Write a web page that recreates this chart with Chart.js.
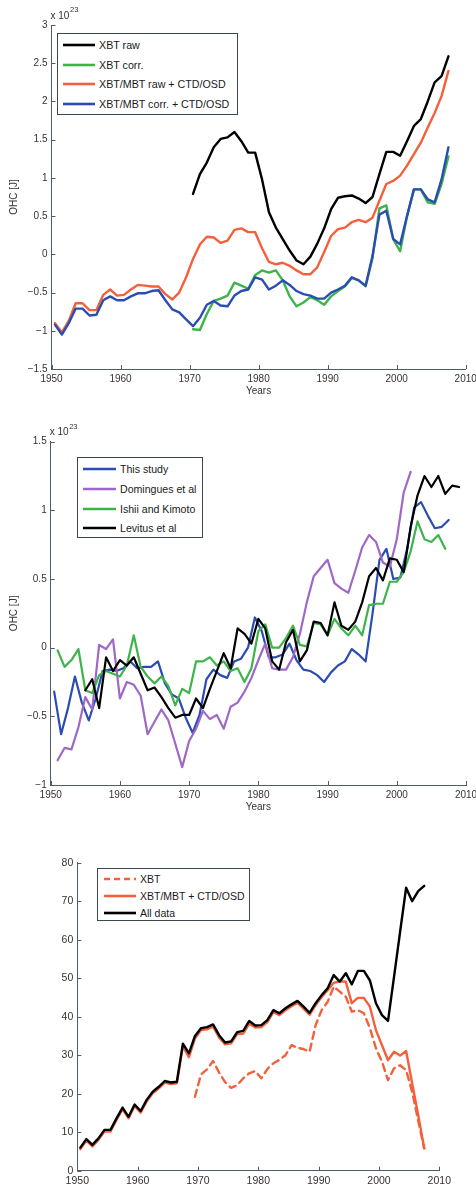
<!DOCTYPE html>
<html>
<head>
<meta charset="utf-8">
<script src="https://cdn.jsdelivr.net/npm/chart.js@4.4.0/dist/chart.umd.min.js"></script>
<style>
html, body { margin: 0; padding: 0; background: #fff; overflow: hidden; width: 476px; height: 1187px; }
canvas { position: absolute; left: 0; }
.legend { position: absolute; box-sizing: border-box; border: 1px solid #3c4650; background: #fff;
  font-family: "Liberation Sans", Arial, sans-serif; color: #1a1a1a; overflow: hidden; }
.legend .row { display: flex; align-items: center; white-space: nowrap; }
.legend svg { display: block; margin-right: 4px; flex: none; }
.legend span { display: inline-block; transform-origin: 0 50%; }
</style>
</head>
<body>
<canvas id="topChart" width="500" height="400" style="top:0px"></canvas>
<canvas id="midChart" width="500" height="400" style="top:415px"></canvas>
<canvas id="botChart" width="500" height="357" style="top:830px"></canvas>
<div id="topLegend" class="legend"></div>
<div id="midLegend" class="legend"></div>
<div id="botLegend" class="legend"></div>
<script>
// ---- data ----
const halfYears = [1950.5, 1951.5, 1952.5, 1953.5, 1954.5, 1955.5, 1956.5, 1957.5, 1958.5, 1959.5,
  1960.5, 1961.5, 1962.5, 1963.5, 1964.5, 1965.5, 1966.5, 1967.5, 1968.5, 1969.5,
  1970.5, 1971.5, 1972.5, 1973.5, 1974.5, 1975.5, 1976.5, 1977.5, 1978.5, 1979.5,
  1980.5, 1981.5, 1982.5, 1983.5, 1984.5, 1985.5, 1986.5, 1987.5, 1988.5, 1989.5,
  1990.5, 1991.5, 1992.5, 1993.5, 1994.5, 1995.5, 1996.5, 1997.5, 1998.5, 1999.5,
  2000.5, 2001.5, 2002.5, 2003.5, 2004.5, 2005.5, 2006.5, 2007.5];
const wholeYears = [1951, 1952, 1953, 1954, 1955, 1956, 1957, 1958, 1959,
  1960, 1961, 1962, 1963, 1964, 1965, 1966, 1967, 1968, 1969,
  1970, 1971, 1972, 1973, 1974, 1975, 1976, 1977, 1978, 1979,
  1980, 1981, 1982, 1983, 1984, 1985, 1986, 1987, 1988, 1989,
  1990, 1991, 1992, 1993, 1994, 1995, 1996, 1997, 1998, 1999,
  2000, 2001, 2002, 2003, 2004, 2005, 2006, 2007, 2008, 2009];

const xTicks = [1950, 1960, 1970, 1980, 1990, 2000, 2010];
const topYTicks = [-1.5, -1, -0.5, 0, 0.5, 1, 1.5, 2, 2.5, 3];
const midYTicks = [-1, -0.5, 0, 0.5, 1, 1.5];
const botYTicks = [0, 10, 20, 30, 40, 50, 60, 70, 80];

// top panel (x 10^23 J)
const topLabels = ["XBT raw", "XBT corr.", "XBT/MBT raw + CTD/OSD", "XBT/MBT corr. + CTD/OSD"];
const xbtRawTop = [0.79, 1.05, 1.20, 1.40, 1.51, 1.53, 1.60, 1.48, 1.33, 1.33,
  0.98, 0.55, 0.35, 0.20, 0.05, -0.08, -0.13, -0.03, 0.14, 0.34,
  0.59, 0.74, 0.76, 0.77, 0.73, 0.67, 0.75, 1.05, 1.34, 1.34,
  1.29, 1.48, 1.68, 1.77, 2.00, 2.25, 2.33, 2.59];
const xbtCorrTop = [-0.98, -0.99, -0.78, -0.61, -0.58, -0.54, -0.37, -0.41, -0.45, -0.27,
  -0.21, -0.24, -0.21, -0.34, -0.55, -0.68, -0.63, -0.56, -0.60, -0.66,
  -0.55, -0.48, -0.42, -0.31, -0.34, -0.42, -0.05, 0.60, 0.64, 0.20,
  0.04, 0.50, 0.85, 0.85, 0.68, 0.66, 0.92, 1.28];
const allRawTop = [-0.90, -1.02, -0.87, -0.64, -0.64, -0.73, -0.73, -0.53, -0.46, -0.54,
  -0.53, -0.46, -0.40, -0.41, -0.42, -0.42, -0.52, -0.59, -0.50, -0.30,
  -0.06, 0.13, 0.23, 0.22, 0.15, 0.18, 0.32, 0.34, 0.29, 0.29,
  0.08, -0.10, -0.13, -0.11, -0.15, -0.21, -0.26, -0.26, -0.17, 0.03,
  0.24, 0.33, 0.35, 0.42, 0.45, 0.42, 0.48, 0.70, 0.92, 0.96,
  1.03, 1.16, 1.31, 1.46, 1.66, 1.85, 2.07, 2.40];
const allCorrTop = [-0.92, -1.05, -0.90, -0.71, -0.71, -0.80, -0.79, -0.60, -0.55, -0.60,
  -0.60, -0.55, -0.51, -0.51, -0.48, -0.47, -0.60, -0.72, -0.76, -0.85,
  -0.94, -0.83, -0.66, -0.61, -0.67, -0.68, -0.54, -0.48, -0.46, -0.30,
  -0.33, -0.46, -0.41, -0.34, -0.40, -0.48, -0.52, -0.54, -0.58, -0.58,
  -0.50, -0.46, -0.41, -0.30, -0.34, -0.41, -0.02, 0.52, 0.57, 0.20,
  0.13, 0.50, 0.85, 0.85, 0.72, 0.68, 0.98, 1.40];

// middle panel (x 10^23 J)
const midLabels = ["This study", "Domingues et al", "Ishii and Kimoto", "Levitus et al"];
const thisStudy = [-0.32, -0.63, -0.44, -0.21, -0.40, -0.53, -0.37, -0.17, -0.16, -0.17,
  -0.15, -0.10, -0.15, -0.14, -0.14, -0.10, -0.26, -0.34, -0.37, -0.51,
  -0.62, -0.49, -0.23, -0.16, -0.20, -0.22, -0.10, -0.08, 0.00, 0.22,
  0.12, -0.07, -0.07, -0.05, 0.03, -0.09, -0.16, -0.17, -0.20, -0.25,
  -0.18, -0.13, -0.10, -0.01, -0.05, -0.10, 0.25, 0.64, 0.72, 0.50,
  0.51, 0.72, 1.02, 1.06, 0.96, 0.87, 0.88, 0.93];
const domingues = [-0.82, -0.73, -0.74, -0.58, -0.36, -0.45, 0.02, -0.01, 0.06,
  -0.37, -0.25, -0.27, -0.35, -0.63, -0.54, -0.45, -0.53, -0.70, -0.87,
  -0.68, -0.59, -0.46, -0.52, -0.49, -0.59, -0.43, -0.40, -0.32, -0.22,
  -0.09, 0.03, -0.15, -0.16, -0.16, -0.07, 0.10, 0.33, 0.52, 0.58,
  0.64, 0.47, 0.43, 0.40, 0.56, 0.73, 0.82, 0.77, 0.62, 0.59,
  0.79, 1.13, 1.28];
const ishii = [-0.02, -0.14, -0.09, -0.01, -0.31, -0.33, -0.20, -0.17, -0.19,
  -0.21, -0.13, 0.09, -0.14, -0.21, -0.26, -0.21, -0.28, -0.42, -0.30,
  -0.33, -0.10, -0.10, -0.07, -0.13, -0.10, -0.17, -0.15, -0.25, -0.15,
  0.12, 0.17, 0.00, 0.00, 0.07, 0.16, 0.02, 0.01, 0.18, 0.17,
  0.09, 0.21, 0.14, 0.09, 0.16, 0.09, 0.31, 0.32, 0.32, 0.48,
  0.48, 0.55, 0.70, 0.92, 0.79, 0.77, 0.82, 0.72];
const levitus = [-0.31, -0.23, -0.44, -0.07, -0.17,
  -0.09, -0.13, -0.07, -0.19, -0.31, -0.29, -0.36, -0.44, -0.51, -0.49,
  -0.49, -0.37, -0.44, -0.30, -0.17, -0.04, -0.15, 0.14, 0.10, 0.03,
  0.21, 0.14, -0.10, -0.16, 0.04, 0.13, -0.10, -0.02, 0.19, 0.18,
  0.09, 0.33, 0.16, 0.13, 0.19, 0.33, 0.52, 0.58, 0.49, 0.65,
  0.64, 0.55, 0.88, 1.11, 1.25, 1.17, 1.25, 1.12, 1.18, 1.17];

// bottom panel
const botLabels = ["XBT", "XBT/MBT + CTD/OSD", "All data"];
const xbtBot = [19.2, 25.0, 26.3, 28.5, 25.5, 23.0, 21.5, 22.2, 24.0, 25.3,
  25.9, 24.0, 26.4, 27.9, 28.8, 30.0, 32.6, 31.9, 31.6, 30.9,
  37.8, 41.7, 43.9, 47.8, 46.5, 45.2, 41.3, 41.7, 40.9, 37.0,
  31.8, 28.3, 23.5, 26.6, 27.4, 26.1, 20.5, 13.0, 5.8];
const xbtMbtBot = [5.6, 7.8, 6.3, 8.0, 10.2, 10.2, 13.2, 16.0, 13.6, 16.8,
  15.1, 18.0, 20.1, 21.4, 22.9, 22.5, 22.7, 32.3, 29.5, 34.3,
  36.5, 36.7, 37.5, 34.6, 32.8, 33.1, 35.5, 35.6, 38.2, 37.2,
  37.3, 38.6, 41.2, 40.4, 41.7, 42.7, 43.6, 42.1, 40.5, 43.0,
  45.1, 46.9, 48.8, 49.2, 49.1, 43.5, 44.9, 44.9, 42.6, 36.5,
  32.6, 28.7, 30.9, 29.9, 31.1, 22.7, 14.5, 5.8];
const allDataBot = [6.0, 8.2, 6.7, 8.4, 10.6, 10.6, 13.6, 16.4, 14.0, 17.2,
  15.5, 18.4, 20.5, 21.8, 23.3, 22.9, 23.1, 33.0, 30.5, 35.0,
  37.0, 37.3, 38.0, 35.2, 33.3, 33.6, 36.0, 36.3, 38.9, 37.7,
  37.8, 39.1, 41.7, 40.9, 42.2, 43.2, 44.1, 42.6, 41.0, 43.5,
  45.6, 47.4, 50.8, 49.1, 51.3, 48.4, 51.9, 51.9, 49.4, 43.5,
  40.4, 38.9, 50.4, 62.0, 73.5, 70.0, 72.6, 74.0];

// ---- styling ----
const BLACK = "#000000", GREEN = "#3cb44a", ORANGE = "#f4603c", BLUE = "#2b4db3", PURPLE = "#a068c6";
const axisColor = "#4d5d6b";
const fontFam = '"Liberation Sans", Arial, sans-serif';
Chart.defaults.font.family = fontFam;
Chart.defaults.color = "#333";

function pts(xs, ys) {
  return ys.map((y, i) => ({ x: xs[i], y: y }));
}
function fmt(v) {
  return String(Number(v.toFixed(1))).replace("-", "\u2212");
}

const axisDecor = {
  id: "axisDecor",
  afterDraw(chart, args, o) {
    const ctx = chart.ctx, area = chart.chartArea, sx = chart.scales.x, sy = chart.scales.y;
    ctx.save();
    ctx.strokeStyle = axisColor;
    ctx.lineWidth = 1;
    sx.ticks.forEach(t => {
      const px = Math.round(sx.getPixelForValue(t.value)) + 0.5;
      ctx.beginPath(); ctx.moveTo(px, area.bottom); ctx.lineTo(px, area.bottom - 4); ctx.stroke();
    });
    sy.ticks.forEach(t => {
      const py = Math.round(sy.getPixelForValue(t.value)) + 0.5;
      ctx.beginPath(); ctx.moveTo(area.left, py); ctx.lineTo(area.left + 4, py); ctx.stroke();
    });
    ctx.fillStyle = "#333";
    if (o.exp) {
      ctx.font = "10px " + fontFam;
      ctx.textAlign = "left";
      ctx.textBaseline = "middle";
      ctx.fillText("x 10", area.left - 1, area.top - 9);
      ctx.font = "7.5px " + fontFam;
      ctx.fillText("23", area.left + 18.5, area.top - 15);
    }
    if (o.yTitle) {
      ctx.font = "10px " + fontFam;
      ctx.translate(14, (area.top + area.bottom) / 2);
      ctx.rotate(-Math.PI / 2);
      ctx.textAlign = "center";
      ctx.textBaseline = "middle";
      ctx.fillText(o.yTitle, 0, 0);
      ctx.setTransform(1, 0, 0, 1, 0, 0);
    }
    if (o.xTitle) {
      ctx.font = "10px " + fontFam;
      ctx.textAlign = "center";
      ctx.textBaseline = "middle";
      ctx.fillText(o.xTitle, (area.left + area.right) / 2, area.bottom + 22);
    }
    ctx.restore();
  }
};

function makeChart(id, datasets, c) {
  return new Chart(document.getElementById(id), {
    type: "line",
    data: { datasets: datasets },
    options: {
      responsive: false,
      animation: false,
      events: [],
      layout: { padding: { top: c.top, right: 500 - c.right, left: 0, bottom: 0 } },
      elements: { point: { radius: 0 }, line: { tension: 0, borderJoinStyle: "round", borderCapStyle: "round" } },
      scales: {
        x: {
          type: "linear", min: 1950, max: 2010,
          afterBuildTicks: s => { s.ticks = xTicks.map(v => ({ value: v })); },
          afterFit: s => { s.height = c.xH; },
          grid: { display: false, drawTicks: false },
          border: { color: axisColor, width: 1 },
          ticks: { padding: 4, autoSkip: false, maxRotation: 0, font: { size: c.tick }, color: "#333",
            callback: v => String(v) }
        },
        y: {
          type: "linear", min: c.yTicks[0], max: c.yTicks[c.yTicks.length - 1],
          afterBuildTicks: s => { s.ticks = c.yTicks.map(v => ({ value: v })); },
          afterFit: s => { s.width = c.left; },
          grid: { display: false, drawTicks: false },
          border: { color: axisColor, width: 1 },
          ticks: { padding: 4, autoSkip: false, font: { size: c.tick }, color: "#333", callback: v => fmt(v) }
        }
      },
      plugins: { legend: { display: false }, tooltip: { enabled: false }, axisDecor: c.decor }
    },
    plugins: [axisDecor]
  });
}

function makeLegend(id, items, b) {
  const el = document.getElementById(id);
  el.style.left = b.left + "px";
  el.style.top = b.top + "px";
  el.style.width = b.w + "px";
  el.style.height = b.h + "px";
  el.style.paddingTop = b.padTop + "px";
  el.style.paddingLeft = b.padLeft + "px";
  el.style.fontSize = b.font + "px";
  items.forEach(it => {
    const row = document.createElement("div");
    row.className = "row";
    row.style.height = b.rowH + "px";
    const dash = it.dash ? ' stroke-dasharray="' + it.dash.join(" ") + '"' : "";
    row.innerHTML = '<svg width="' + b.lineW + '" height="6"><line x1="0" y1="3" x2="' + b.lineW +
      '" y2="3" stroke="' + it.color + '" stroke-width="' + it.width + '"' + dash + '/></svg>' +
      '<span style="transform:scaleX(' + b.squeeze + ')">' + it.label + "</span>";
    el.appendChild(row);
  });
}

// ---- top panel ----
const xbtYears = halfYears.slice(20);
const topColors = [BLACK, GREEN, ORANGE, BLUE];
const topSeries = [pts(xbtYears, xbtRawTop), pts(xbtYears, xbtCorrTop), pts(halfYears, allRawTop), pts(halfYears, allCorrTop)];
makeChart("topChart", topSeries.map((d, i) => ({
  label: topLabels[i], data: d, borderColor: topColors[i], borderWidth: 2.4, order: 4 - i
})), { top: 25, right: 465.7, left: 51.5, xH: 31, tick: 10, yTicks: topYTicks,
  decor: { exp: true, yTitle: "OHC [J]", xTitle: "Years" } });
makeLegend("topLegend", topLabels.map((l, i) => ({ label: l, color: topColors[i], width: 2.6 })),
  { left: 56.7, top: 33.3, w: 181.6, h: 81.7, padTop: 1.5, padLeft: 5.6, rowH: 19.4, lineW: 32, font: 11.5, squeeze: 0.93 });

// ---- middle panel ----
const midColors = [BLUE, PURPLE, GREEN, BLACK];
const midSeries = [pts(halfYears, thisStudy), pts(wholeYears.slice(0, 52), domingues),
  pts(wholeYears.slice(0, 57), ishii), pts(wholeYears.slice(4), levitus)];
makeChart("midChart", midSeries.map((d, i) => ({
  label: midLabels[i], data: d, borderColor: midColors[i], borderWidth: 2.2, order: 4 - i
})), { top: 26.7, right: 466, left: 50.7, xH: 30, tick: 10, yTicks: midYTicks,
  decor: { exp: true, yTitle: "OHC [J]", xTitle: "Years" } });
makeLegend("midLegend", midLabels.map((l, i) => ({ label: l, color: midColors[i], width: 2.4 })),
  { left: 77.3, top: 456.7, w: 126, h: 81.6, padTop: 1.5, padLeft: 5, rowH: 19.8, lineW: 33, font: 11.5, squeeze: 0.92 });

// ---- bottom panel ----
const botColors = [ORANGE, ORANGE, BLACK];
const botSeries = [pts(halfYears.slice(19), xbtBot), pts(halfYears, xbtMbtBot), pts(halfYears, allDataBot)];
makeChart("botChart", botSeries.map((d, i) => ({
  label: botLabels[i], data: d, borderColor: botColors[i], borderWidth: 2.4,
  borderDash: i === 0 ? [7, 5] : [], order: 3 - i
})), { top: 32.7, right: 439.3, left: 77.3, xH: 16.3, tick: 10.5, yTicks: botYTicks, decor: {} });
makeLegend("botLegend", botLabels.map((l, i) => ({ label: l, color: botColors[i], width: 2.6, dash: i === 0 ? [6, 4] : null })),
  { left: 97.3, top: 868.3, w: 152.7, h: 52.7, padTop: 1.5, padLeft: 5.7, rowH: 16.7, lineW: 32, font: 10.5, squeeze: 1 });
</script>
</body>
</html>
